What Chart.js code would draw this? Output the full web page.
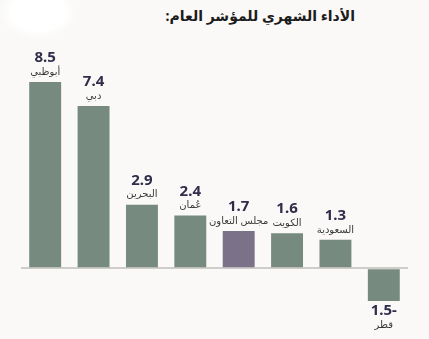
<!DOCTYPE html>
<html>
<head>
<meta charset="utf-8">
<script src="https://cdn.jsdelivr.net/npm/chart.js@4"></script>
<style>
  html, body { margin: 0; padding: 0; background: #faf9f7; }
  #wrap { position: relative; width: 429px; height: 339px; overflow: hidden; }
  #blob { position: absolute; left: 0px; top: -14px; width: 76px; height: 52px;
          background: radial-gradient(ellipse at center, #ffffff 50%, rgba(255,255,255,0) 72%); }
  #title { position: absolute; right: 74px; top: 6px; direction: rtl;
           font: bold 14px "Noto Sans", "DejaVu Sans", sans-serif; color: #1c1c1c; }
  canvas { position: absolute; left: 0; top: 0; }
</style>
</head>
<body>
<div id="wrap">
  <div id="blob"></div>
  <div id="title">الأداء الشهري للمؤشر العام:</div>
  <canvas id="perfChart" width="429" height="339"></canvas>
</div>
<script>
const markets = ['أبوظبي', 'دبي', 'البحرين', 'عُمان', 'مجلس التعاون', 'الكويت', 'السعودية', 'قطر'];
const changes = [8.5, 7.4, 2.9, 2.4, 1.7, 1.6, 1.3, -1.5];
const barColors = ['#778a80', '#778a80', '#778a80', '#778a80', '#7b7189', '#778a80', '#778a80', '#778a80'];

// value + market name above each bar (below for negatives)
const barLabels = {
  id: 'barLabels',
  afterDatasetsDraw(chart) {
    const ctx = chart.ctx;
    const meta = chart.getDatasetMeta(0);
    ctx.save();
    ctx.textAlign = 'center';
    ctx.textBaseline = 'middle';
    meta.data.forEach((bar, i) => {
      const v = changes[i];
      const txt = v < 0 ? Math.abs(v).toFixed(1) + '-' : v.toFixed(1);
      let valueY, nameY;
      if (v >= 0) {
        valueY = bar.y - 24;
        nameY = bar.y - 10;
      } else {
        valueY = bar.y + 10;
        nameY = bar.y + 24;
      }
      ctx.fillStyle = '#2f2d4a';
      ctx.font = 'bold 15px "Noto Sans", "DejaVu Sans", sans-serif';
      ctx.fillText(txt, bar.x, valueY);
      ctx.fillStyle = '#3a3a3a';
      ctx.font = '10px "Noto Sans", "DejaVu Sans", sans-serif';
      ctx.fillText(markets[i], bar.x, nameY);
    });
    ctx.restore();
  }
};

new Chart(document.getElementById('perfChart'), {
  type: 'bar',
  data: {
    labels: markets,
    datasets: [{
      data: changes,
      backgroundColor: barColors,
      borderWidth: 0,
      barPercentage: 0.66,
      categoryPercentage: 1
    }]
  },
  options: {
    responsive: false,
    animation: false,
    layout: { padding: { top: 71, bottom: 27, left: 21, right: 21 } },
    plugins: { legend: { display: false }, tooltip: { enabled: false } },
    scales: {
      x: { display: false },
      y: {
        min: -2,
        max: 9,
        ticks: { display: false, stepSize: 1 },
        border: { display: false },
        grid: {
          drawTicks: false,
          lineWidth: 2,
          color: c => c.tick.value === 0 ? '#cfcdca' : 'rgba(0,0,0,0)'
        }
      }
    }
  },
  plugins: [barLabels]
});
</script>
</body>
</html>
